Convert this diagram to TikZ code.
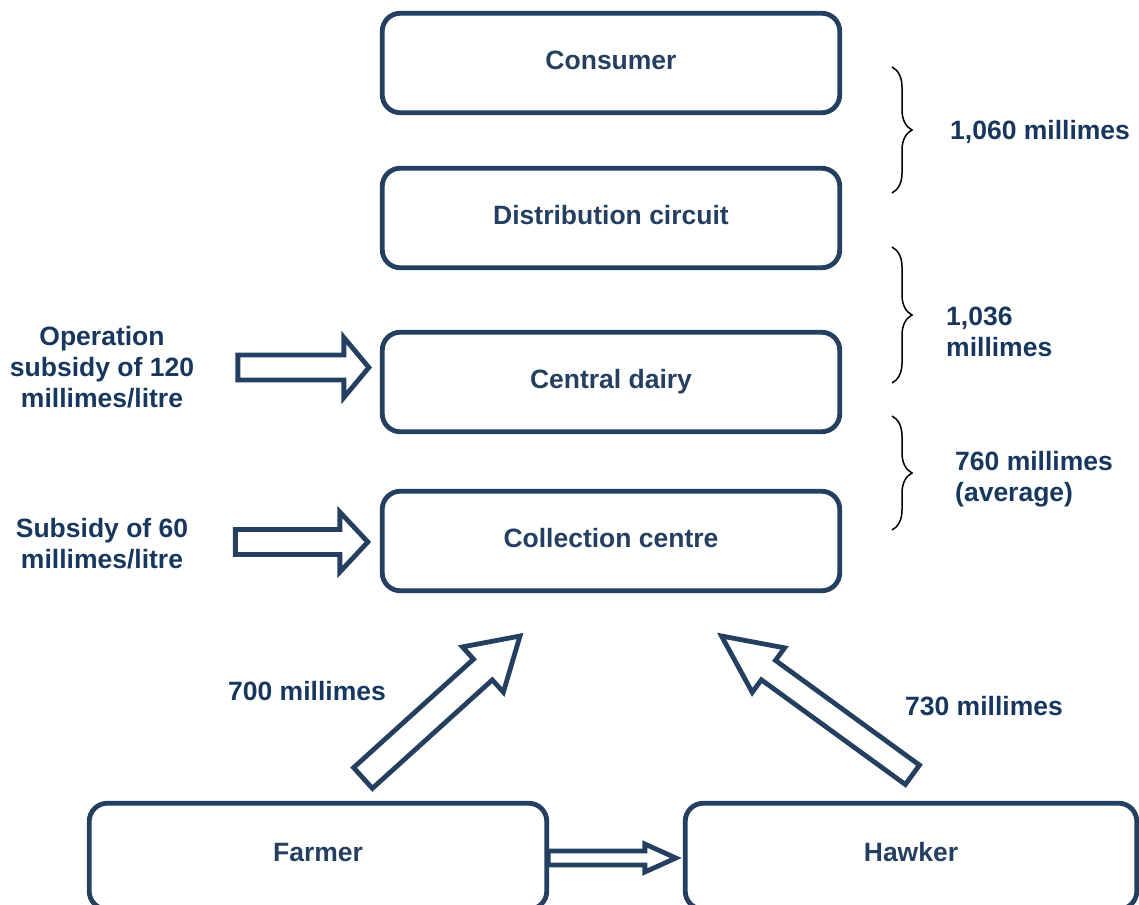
\documentclass[tikz,border=0pt]{standalone}
\usepackage{fontspec}
\setmainfont{Liberation Sans}
\usetikzlibrary{calc,decorations.pathreplacing}
\definecolor{navy}{HTML}{243F60}
\definecolor{labblue}{HTML}{17375E}
% #1 style, #2 tail, #3 tip, #4 half shaft, #5 head length, #6 half head
\newcommand\blockarrow[6]{%
  \coordinate (ba-b) at ($(#3)!#5!(#2)$);
  \draw[#1] ($(#2)!#4!90:(#3)$) -- ($(ba-b)!#4!90:(#3)$) -- ($(ba-b)!#6!90:(#3)$)
    -- (#3) -- ($(ba-b)!#6!-90:(#3)$) -- ($(ba-b)!#4!-90:(#3)$) -- ($(#2)!#4!-90:(#3)$) -- cycle;
}
\begin{document}
\begin{tikzpicture}[x=1pt,y=-1pt,
  box/.style={draw=navy,line width=4.8pt,rounded corners=18pt,minimum width=457.5pt,
    minimum height=99.5pt,text=navy,font=\fontsize{26.5}{31}\selectfont\bfseries,
    text height=19pt,text depth=6pt,inner sep=0pt},
  lab/.style={text=labblue,font=\fontsize{26.5}{31}\selectfont\bfseries,inner sep=0pt},
  barr/.style={draw=navy,line width=4.8pt,fill=white,line join=miter},
  bracestyle/.style={draw=black,line width=1.5pt,decorate,decoration={brace,amplitude=20pt}}]
\useasboundingbox (0,0) rectangle (1139,904);

% boxes
\node[box] (consumer) at (611,63) {Consumer};
\node[box] (distrib) at (611,218) {Distribution circuit};
\node[box] (dairy) at (611,382) {Central dairy};
\node[box] (coll) at (611,541) {Collection centre};
\node[box,minimum height=106pt,text depth=8.5pt] (farmer) at (318,856.25) {Farmer};
\node[box,minimum height=106pt,text depth=8.5pt,minimum width=451.5pt] (hawker) at (911,856.25) {Hawker};

% braces
\coordinate (b1a) at (892,67);  \coordinate (b1b) at (892,193);
\coordinate (b2a) at (892,247); \coordinate (b2b) at (892,383);
\coordinate (b3a) at (892,416); \coordinate (b3b) at (892,530);
\draw[bracestyle] (b1a) -- (b1b);
\draw[bracestyle] (b2a) -- (b2b);
\draw[bracestyle] (b3a) -- (b3b);

% labels
\node[lab,anchor=west] (p1060) at (950,132) {1,060 millimes};
\node[lab,anchor=west,align=left] (p1036) at (946,332) {1,036\\millimes};
\node[lab,anchor=west,align=left] (p760) at (955,479.5) {760 millimes\\(average)};
\node[lab,align=center] (opsub) at (102,367) {Operation\\subsidy of 120\\millimes/litre};
\node[lab,align=center] (sub60) at (102,543.5) {Subsidy of 60\\millimes/litre};
\node[lab] (p700) at (307,691) {700 millimes};
\node[lab] (p730) at (984,706) {730 millimes};

% horizontal block arrows
\coordinate (t1tip) at ($(dairy.west)+(-11,-14.5)$);
\coordinate (t1tail) at ($(t1tip)+(-131,0)$);
\blockarrow{barr}{t1tail}{t1tip}{12.5pt}{25pt}{30pt}
\coordinate (t2tip) at ($(coll.west)+(-12,1)$);
\coordinate (t2tail) at ($(t2tip)+(-132.5,0)$);
\blockarrow{barr}{t2tail}{t2tip}{12.5pt}{28pt}{30pt}
\coordinate (t3tail) at ($(farmer.east)+(-1,1.75)$);
\coordinate (t3tip) at ($(hawker.west)+(-7,1.75)$);
\blockarrow{barr}{t3tail}{t3tip}{7pt}{31pt}{14pt}

% diagonal block arrows
\coordinate (d1tail) at (363,778);
\coordinate (d1tip) at (520,636);
\blockarrow{barr}{d1tail}{d1tip}{14pt}{50pt}{30.5pt}
\coordinate (d2tail) at (912.4,774.8);
\coordinate (d2tip) at (721.5,636);
\blockarrow{barr}{d2tail}{d2tip}{12pt}{58pt}{27.5pt}
\end{tikzpicture}
\end{document}
